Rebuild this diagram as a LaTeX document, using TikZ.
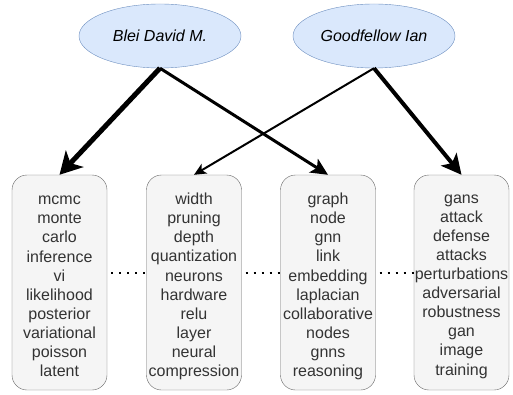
\documentclass[tikz,border=0pt]{standalone}
\usepackage{fontspec}
\setmainfont{Liberation Sans}
\usetikzlibrary{shapes.geometric,arrows.meta}
\definecolor{ellfill}{HTML}{DAE8FC}
\definecolor{elldraw}{HTML}{6C8EBF}
\definecolor{boxfill}{HTML}{F5F5F5}
\definecolor{boxdraw}{HTML}{666666}
\begin{document}
\begin{tikzpicture}[x=1pt,y=1pt,
  author/.style={ellipse,draw=elldraw,fill=ellfill,minimum width=162pt,minimum height=64pt,inner sep=0pt,font=\fontsize{16}{19}\selectfont\itshape},
  topicbox/.style={rectangle,rounded corners=15pt,draw=boxdraw,fill=boxfill,minimum width=95pt,minimum height=215pt,inner sep=0pt},
  topictext/.style={inner sep=0pt,align=center,font=\fontsize{16}{19.1}\selectfont,text=black!80},
  conn/.style={draw=black,line join=miter},
  sep/.style={line width=2pt,dash pattern=on 2pt off 6pt,draw=black}
]
\useasboundingbox (0,0) rectangle (513,394);
\node[author] (blei) at (160,358) {Blei David M.};
\node[author] (good) at (374,358) {Goodfellow Ian};
\node[topicbox] (b1) at (59.5,111.5) {};
\node[topicbox] (b2) at (194,111.5) {};
\node[topicbox] (b3) at (328,111.5) {};
\node[topicbox] (b4) at (461.5,111.5) {};
\node[topictext] (t1) at ([yshift=-4pt]b1.center) {mcmc\\monte\\carlo\\inference\\vi\\likelihood\\posterior\\variational\\poisson\\latent};
\node[topictext] (t2) at ([yshift=-4pt]b2.center) {width\\pruning\\depth\\quantization\\neurons\\hardware\\relu\\layer\\neural\\compression};
\node[topictext] (t3) at ([yshift=-4pt]b3.center) {graph\\node\\gnn\\link\\embedding\\laplacian\\collaborative\\nodes\\gnns\\reasoning};
\node[topictext] (t4) at ([yshift=-4pt]b4.center) {gans\\attack\\defense\\attacks\\perturbations\\adversarial\\robustness\\gan\\image\\training};
\draw[conn,line width=5pt,-{Stealth[length=22pt,width=24pt,inset=6pt]}] (blei.south) -- (b1.north);
\draw[conn,line width=3pt,-{Stealth[length=17pt,width=16pt,inset=4pt]}] (blei.south) -- (b3.north);
\draw[conn,line width=2pt,-{Stealth[length=12pt,width=11pt,inset=3pt]}] (good.south) -- (b2.north);
\draw[conn,line width=4pt,-{Stealth[length=20pt,width=20pt,inset=5pt]}] (good.south) -- (b4.north);
\draw[sep] ([xshift=4pt,yshift=9.5pt]b1.east) -- ([yshift=9.5pt]b2.west);
\draw[sep] ([xshift=4pt,yshift=9.5pt]b2.east) -- ([yshift=9.5pt]b3.west);
\draw[sep] ([xshift=4pt,yshift=9.5pt]b3.east) -- ([yshift=9.5pt]b4.west);
\end{tikzpicture}
\end{document}
